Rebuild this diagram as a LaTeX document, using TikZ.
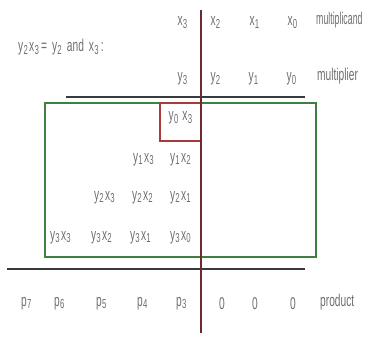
\documentclass[tikz,border=0pt]{standalone}
\usepackage{fontspec}
\setmainfont[FakeStretch=0.6]{Liberation Sans}
\definecolor{txt}{HTML}{6E6E6E}
\definecolor{brn}{HTML}{6E2A2A}
\definecolor{grn}{HTML}{3F7F3F}
\definecolor{redb}{HTML}{A83A3A}
\definecolor{blk}{HTML}{3A3A3A}
\newcommand{\subd}[1]{\kern0.3pt\raisebox{-0.3ex}{\fontsize{13}{13}\selectfont #1}\kern1.2pt}
\tikzset{
  lbl/.style={anchor=base, inner sep=0pt, text=txt, font=\fontsize{17}{18}\selectfont},
  lbll/.style={lbl, anchor=base west},
}
\begin{document}
\begin{tikzpicture}[x=1pt,y=-1pt]
\useasboundingbox (0,0) rectangle (366,342);
% header
\node[lbll] (eq) at (18,52) {y\subd{2}x\subd{3}\kern1pt=\kern5pt y\subd{2}\kern4pt and\kern5pt x\subd{3}\kern1pt:};
\node[lbl] (m3) at (183,26) {x\subd{3}};
\node[lbl] (m2) at (216,26) {x\subd{2}};
\node[lbl] (m1) at (255,26) {x\subd{1}};
\node[lbl] (m0) at (293,26) {x\subd{0}};
\node[lbll] (mc) at (316,25) {\scalebox{0.86}[1]{multiplicand}};
\node[lbl] (q3) at (183,82) {y\subd{3}};
\node[lbl] (q2) at (216,82) {y\subd{2}};
\node[lbl] (q1) at (254,82) {y\subd{1}};
\node[lbl] (q0) at (292,82) {y\subd{0}};
\node[lbll] (mp) at (317,81) {multiplier};
% partial products
\node[lbl] (a03) at (181,121) {y\subd{0}\,x\subd{3}};
\node[lbl] (a13) at (144,162) {y\subd{1}x\subd{3}};
\node[lbl] (a12) at (181,162) {y\subd{1}x\subd{2}};
\node[lbl] (a23) at (105,200) {y\subd{2}x\subd{3}};
\node[lbl] (a22) at (143,200) {y\subd{2}x\subd{2}};
\node[lbl] (a21) at (181,200) {y\subd{2}x\subd{1}};
\node[lbl] (a33) at (61,240) {y\subd{3}x\subd{3}};
\node[lbl] (a32) at (102,240) {y\subd{3}x\subd{2}};
\node[lbl] (a31) at (141,240) {y\subd{3}x\subd{1}};
\node[lbl] (a30) at (181,240) {y\subd{3}x\subd{0}};
% product row
\node[lbl] (p7) at (27,306) {p\subd{7}};
\node[lbl] (p6) at (60,306) {p\subd{6}};
\node[lbl] (p5) at (102,306) {p\subd{5}};
\node[lbl] (p4) at (143,306) {p\subd{4}};
\node[lbl] (p3) at (182,306) {p\subd{3}};
\node[lbl] (z2) at (222,309) {0};
\node[lbl] (z1) at (255,309) {0};
\node[lbl] (z0) at (293,309) {0};
\node[lbll] (pr) at (320,306) {product};
% coordinates
\coordinate (vt) at (201,10);
\coordinate (vb) at (201,333);
\coordinate (ml) at (66,97);
\coordinate (mr) at (305,97);
\coordinate (pl) at (7,269);
\coordinate (prr) at (305,269);
\coordinate (g1) at (45,103);
\coordinate (g2) at (316,257);
\coordinate (r1) at (160,103);
\coordinate (r2) at (201,141);
% lines
\draw[blk, line width=1.1pt] (ml) -- (mr);
\draw[blk, line width=1.1pt] (pl) -- (prr);
\draw[grn, line width=1.6pt] (g1) rectangle (g2);
\draw[redb, line width=1.5pt] (r1) rectangle (r2);
\draw[brn, line width=1.3pt] (vt) -- (vb);
\end{tikzpicture}
\end{document}
